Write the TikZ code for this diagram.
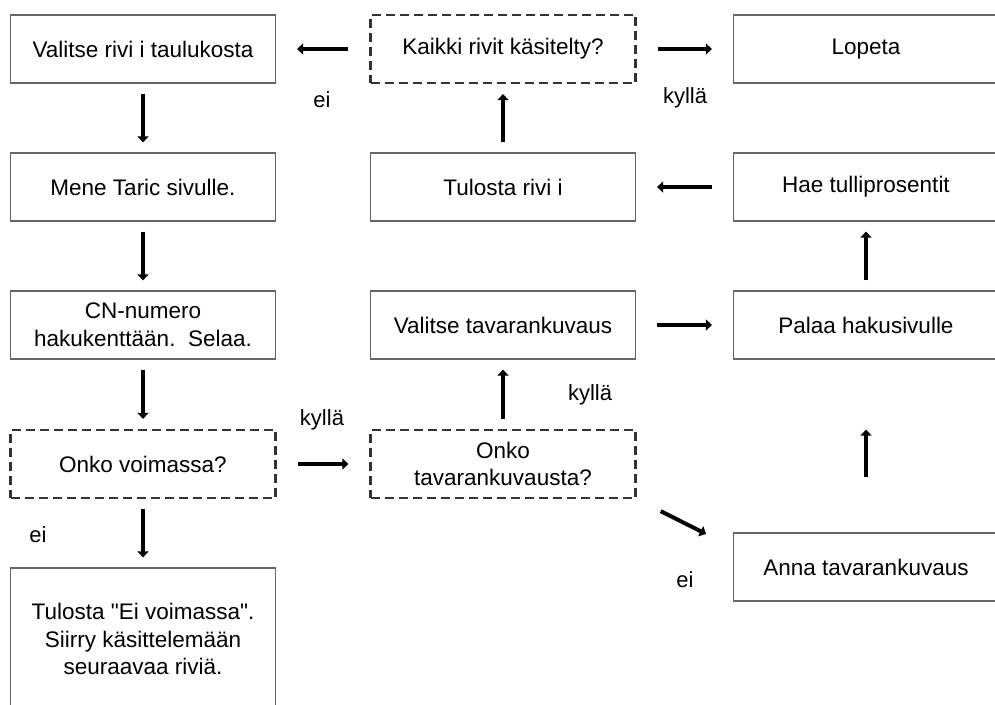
\documentclass[tikz,border=0pt]{standalone}
\usepackage{fontspec}
\setmainfont{Liberation Sans}
\usetikzlibrary{arrows.meta}

\tikzset{
    laatikko/.style={draw=black!60, line width=1.2pt, minimum width=265pt, minimum height=68pt,
        align=center, inner sep=0pt, font=\fontsize{22.5}{27.5}\selectfont},
    ehto/.style={laatikko, draw=black!80, line width=2.2pt, dash pattern=on 9pt off 5pt},
    nuoli/.style={-{Triangle[length=6pt,width=11pt]}, line width=4pt, shorten >=10pt, shorten <=10pt},
    vaaka/.style={nuoli, shorten >=21pt, shorten <=21pt},
    selite/.style={font=\fontsize{22}{24}\selectfont}
}

\begin{document}
\begin{tikzpicture}[x=1pt,y=1pt]

    \useasboundingbox (0,0) rectangle (995,704);

    \def\sa{143}
    \def\sb{503}
    \def\sc{866}

    %vasen sarake
    \node[laatikko] (valitserivi) at (\sa,655) {Valitse rivi i taulukosta};
    \node[laatikko] (taric) at (\sa,517) {Mene Taric sivulle.};
    \node[laatikko] (cn) at (\sa,379) {CN-numero\\hakukenttään.\ \ Selaa.};
    \node[ehto] (voimassa) at (\sa,240) {Onko voimassa?};
    \node[laatikko, minimum height=142pt] (eivoimassa) at (\sa,65) {Tulosta \textquotedbl Ei voimassa\textquotedbl.\\Siirry käsittelemään\\seuraavaa riviä.};

    %keskisarake
    \node[ehto] (kaikki) at (\sb,655) {Kaikki rivit käsitelty?};
    \node[laatikko] (tulosta) at (\sb,517) {Tulosta rivi i};
    \node[laatikko] (valitsetavara) at (\sb,379) {Valitse tavarankuvaus};
    \node[ehto] (onkotavara) at (\sb,240) {Onko\\tavarankuvausta?};

    %oikea sarake
    \node[laatikko] (lopeta) at (\sc,655) {Lopeta};
    \node[laatikko] (hae) at (\sc,517) {Hae tulliprosentit};
    \node[laatikko] (palaa) at (\sc,379) {Palaa hakusivulle};
    \node[laatikko] (anna) at (\sc,137) {Anna tavarankuvaus};

    %nuolet
    \draw[nuoli] (valitserivi) -- (taric);
    \draw[nuoli] (taric) -- (cn);
    \draw[nuoli] (cn) -- (voimassa);
    \draw[nuoli] (voimassa) -- (eivoimassa);
    \draw[vaaka] (voimassa) -- (onkotavara);
    \draw[nuoli] (onkotavara) -- (valitsetavara);
    \draw[nuoli, shorten <=27pt, shorten >=30pt] (onkotavara.south east) -- ([yshift=-15pt]anna.north west);
    \draw[nuoli, shorten <=55pt, shorten >=70pt] (anna) -- (palaa);
    \draw[vaaka] (valitsetavara) -- (palaa);
    \draw[nuoli] (palaa) -- (hae);
    \draw[vaaka] (hae) -- (tulosta);
    \draw[nuoli] (tulosta) -- (kaikki);
    \draw[vaaka] (kaikki) -- (valitserivi);
    \draw[vaaka] (kaikki) -- (lopeta);

    %selitteet
    \node[selite] (ei1) at (322,604) {ei};
    \node[selite] (kylla1) at (685,606) {kyllä};
    \node[selite] (ei2) at (38,169) {ei};
    \node[selite] (kylla2) at (322,284) {kyllä};
    \node[selite] (kylla3) at (590,309) {kyllä};
    \node[selite] (ei3) at (685,124) {ei};

\end{tikzpicture}
\end{document}
